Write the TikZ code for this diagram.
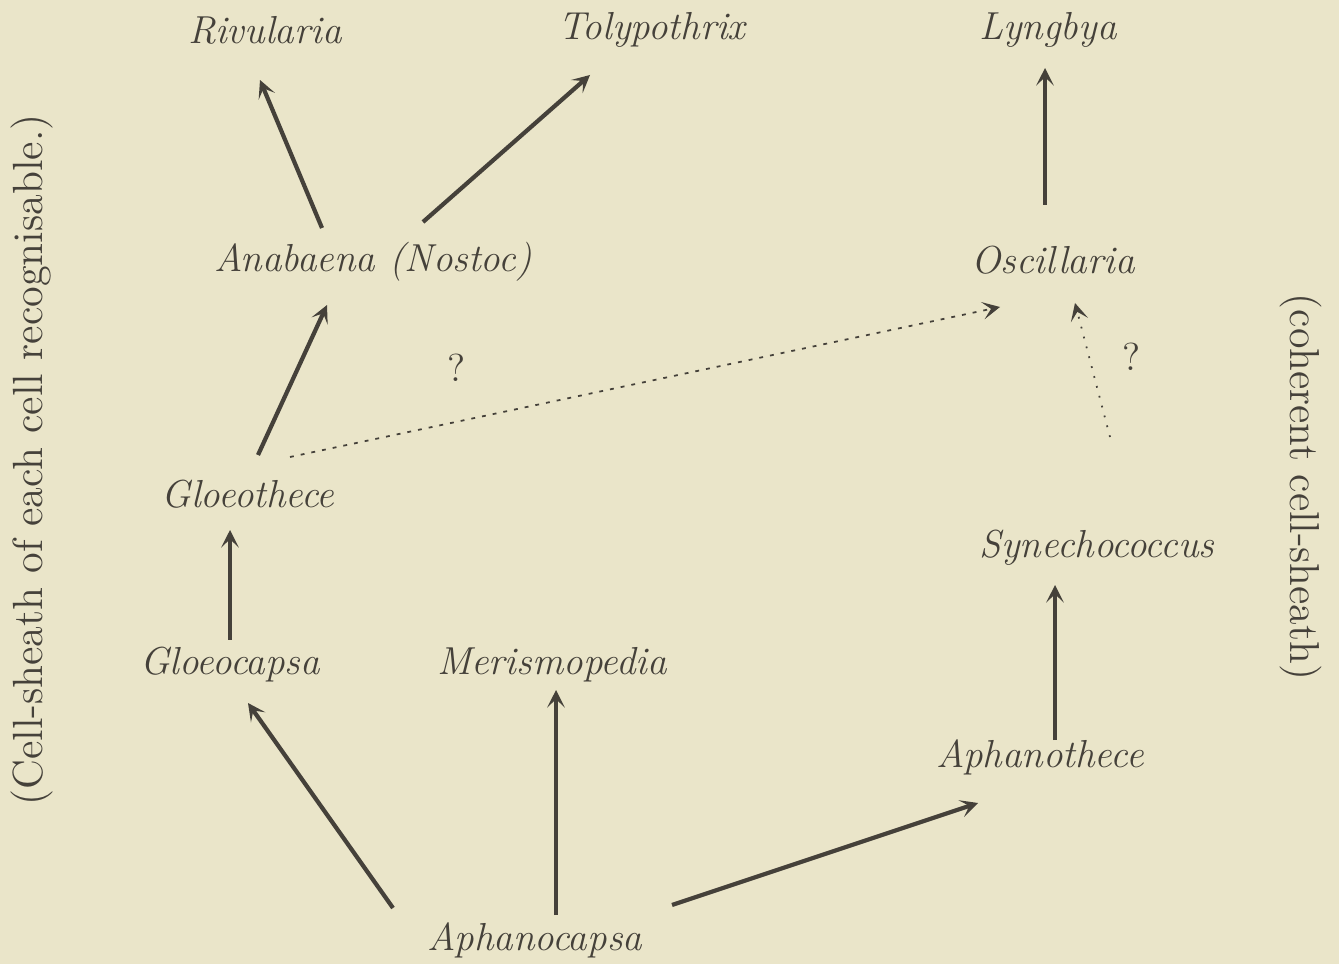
\documentclass[tikz,border=0pt]{standalone}
\usetikzlibrary{arrows.meta,calc}
\definecolor{colpaper}{HTML}{EAE5C9}
\definecolor{colink}{HTML}{45413A}

\begin{document}
\begin{tikzpicture}[
  x=0.01cm, y=-0.01cm,
  taxon/.style={text=colink,font=\fontsize{11.1}{13}\selectfont\itshape,inner sep=0pt},
  query/.style={text=colink,font=\fontsize{11.1}{13}\selectfont,inner sep=0pt},
  sidenote/.style={text=colink,inner sep=0pt},
  descent/.style={draw=colink,line width=1.2pt,
    -{Stealth[length=5pt,width=5pt,inset=2.4pt]}},
  doubtful/.style={draw=colink,line width=0.5pt,dash pattern=on 1.1pt off 2pt,
    -{Stealth[length=5pt,width=5pt,inset=2.4pt,line width=0.5pt,fill=colink]}},
  faint/.style={draw=colink,line width=0.5pt,dash pattern=on 0.5pt off 2.4pt,
    -{Stealth[length=5pt,width=5pt,inset=2.4pt,line width=0.5pt,fill=colink]}},
]
  \fill[colpaper] (0,0) rectangle (1339,964);
  \useasboundingbox (0,0) rectangle (1339,964);
  % ---- top row ----
  \node[taxon] (riv)  at (265,30)  {Rivularia};
  \node[taxon] (toly) at (652,30)  {Tolypothrix};
  \node[taxon] (lyng) at (1048,30) {Lyngbya};
  % ---- middle ----
  \node[taxon] (anab) at (373,262)  {Anabaena (Nostoc)};
  \node[taxon] (osc)  at (1053,260) {Oscillaria};
  \node[query] (q1)   at (457,368)  {?};
  \node[query] (q2)   at (1132,357) {?};
  \node[taxon] (glth) at (248,494)  {Gloeothece};
  \node[taxon] (syn)  at (1097,548) {Synechococcus};
  % ---- bottom ----
  \node[taxon] (glcp) at (230,665)  {Gloeocapsa};
  \node[taxon] (meri) at (552,665)  {Merismopedia};
  \node[taxon] (apth) at (1040,757) {Aphanothece};
  \node[taxon] (apcp) at (535,940)  {Aphanocapsa};
  % ---- side notes ----
  \node[sidenote,rotate=90,font=\fontsize{12}{14}\selectfont]  (leftnote)  at (32,460)
    {(Cell-sheath of each cell recognisable.)};
  \node[sidenote,rotate=-90,font=\fontsize{11.9}{14}\selectfont] (rightnote) at (1301,487)
    {(coherent cell-sheath)};
  % ---- lines of descent ----
  \draw[descent] ($(anab)+(-51,-34)$) -- ($(riv)+(-5,50)$);
  \draw[descent] ($(anab)+(50,-40)$)  -- ($(toly)+(-62,45)$);
  \draw[descent] ($(osc)+(-8,-55)$)   -- ($(lyng)+(-3,38)$);
  \draw[descent] ($(glth)+(10,-39)$)  -- ($(anab)+(-46,43)$);
  \draw[descent] ($(glcp)+(0,-25)$)   -- ($(glth)+(-18,36)$);
  \draw[descent] ($(apcp)+(-142,-32)$) -- ($(glcp)+(18,38)$);
  \draw[descent] ($(apcp)+(21,-25)$)  -- ($(meri)+(4,25)$);
  \draw[descent] ($(apcp)+(137,-35)$) -- ($(apth)+(-62,46)$);
  \draw[descent] ($(apth)+(15,-17)$)  -- ($(syn)+(-42,37)$);
  % ---- doubtful ones ----
  \draw[doubtful] ($(glth)+(42,-37)$) -- ($(osc)+(-53,47)$);
  \draw[faint]    ($(syn)+(13,-111)$) -- ($(osc)+(22,43)$);
\end{tikzpicture}
\end{document}
